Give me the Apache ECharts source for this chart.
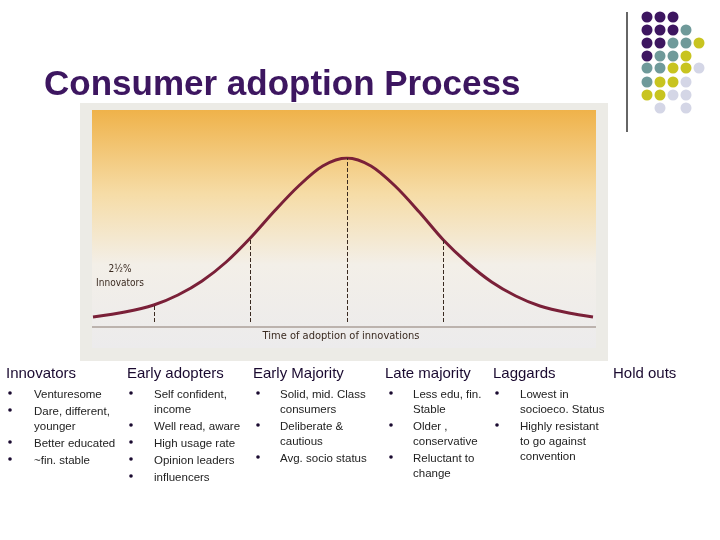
<!DOCTYPE html>
<html><head><meta charset="utf-8">
<script src="https://cdn.jsdelivr.net/npm/echarts@6/dist/echarts.min.js"></script>
<style>html,body{margin:0;padding:0;background:#fff}#c{width:720px;height:540px}</style>
</head><body><div id="c"></div>
<script>
// bell curve (x in std deviations, y = height above baseline)
const curveX = [-2.63, -2.3, -2, -1.75, -1.5, -1.25, -1, -0.75, -0.5, -0.25, 0, 0.25, 0.5, 0.75, 1, 1.25, 1.5, 1.75, 2, 2.3, 2.55];
const curveY = [5, 10, 17, 27, 41, 60, 84, 111, 136, 156, 164, 156, 136, 110, 82, 59, 40, 26, 16, 9, 5];
const dividers = [[-2, 17], [-1, 84], [0, 164], [1, 82]];
const segmentLabels = [
  {x: -1.45, pct: '13½%', name: 'Early adopters'},
  {x: -0.5, pct: '34%', name: 'Early majority'},
  {x: 0.55, pct: '34%', name: 'Late majority'},
  {x: 1.5, pct: '16%', name: 'Laggards'}
];
const headers = ['Innovators', 'Early adopters', 'Early Majority', 'Late majority', 'Laggards', 'Hold outs'];
const col1 = ['Venturesome', 'Dare, different,\nyounger', 'Better educated', '~fin. stable'];
const col2 = ['Self confident,\nincome', 'Well read, aware', 'High usage rate', 'Opinion leaders', 'influencers'];
const col3 = ['Solid, mid. Class\nconsumers', 'Deliberate &\ncautious', 'Avg. socio status'];
const col4 = ['Less edu, fin.\nStable', 'Older ,\nconservative', 'Reluctant to\nchange'];
const col5 = ['Lowest in\nsocioeco. Status', 'Highly resistant\nto go against\nconvention'];
const dotRows = ['PPP', 'PPPT', 'PPTTY', 'PTTY', 'TTYYG', 'TYYG', 'YYGG', ' G G'];

const chart = echarts.init(document.getElementById('c'));
const dotColors = {P: '#3d1660', T: '#6f9a9a', Y: '#c8c420', G: '#d4d6e6'};
const textFont = 'Liberation Sans, Arial, sans-serif';
const graphic = [];

// photo frame + gradient
graphic.push({type: 'rect', z: -10, shape: {x: 80, y: 103, width: 528, height: 258},
  style: {fill: '#ecebe6'}});
graphic.push({type: 'rect', z: -9, shape: {x: 92, y: 110, width: 504, height: 238},
  style: {fill: new echarts.graphic.LinearGradient(0, 0, 0, 1, [
    {offset: 0, color: '#efb24a'}, {offset: 0.35, color: '#f6dca6'},
    {offset: 0.65, color: '#f3efe8'}, {offset: 1, color: '#ecebec'}])}});
graphic.push({type: 'line', z: -8, shape: {x1: 92, y1: 327, x2: 596, y2: 327},
  style: {stroke: '#8a7a70', lineWidth: 1}});
graphic.push({type: 'text', x: 341, y: 331, style: {text: 'Time of adoption of innovations',
  font: '11px "DejaVu Sans Condensed", sans-serif', fill: '#3a2a20', align: 'center'}});
graphic.push({type: 'text', x: 120, y: 262, style: {text: '2½%\nInnovators',
  font: '10px "DejaVu Sans Condensed", sans-serif', fill: '#3a2a20', align: 'center', lineHeight: 14}});

// title
graphic.push({type: 'text', x: 44, y: 68, style: {text: 'Consumer adoption Process',
  font: 'bold 35px ' + textFont, fill: '#3d1660'}});
graphic.push({type: 'line', shape: {x1: 627, y1: 12, x2: 627, y2: 132}, style: {stroke: '#333', lineWidth: 1.5}});

// decorative dots
const dotX = [647, 660, 673, 686, 699];
const dotY = [17, 30, 43, 56, 68, 82, 95, 108];
dotRows.forEach((row, r) => {
  row.split('').forEach((ch, c) => {
    if (dotColors[ch]) {
      graphic.push({type: 'circle', shape: {cx: dotX[c], cy: dotY[r], r: 5.5}, style: {fill: dotColors[ch]}});
    }
  });
});

// columns
const headerX = [6, 127, 253, 385, 493, 613];
headers.forEach((h, i) => {
  graphic.push({type: 'text', x: headerX[i], y: 366, style: {text: h, font: '15px ' + textFont, fill: '#1a0a30'}});
});
[[col1, 10, 34], [col2, 131, 154], [col3, 258, 280], [col4, 391, 413], [col5, 497, 520]].forEach(([items, bx, tx]) => {
  let y = 387;
  items.forEach(item => {
    const lines = item.split('\n').length;
    graphic.push({type: 'circle', shape: {cx: bx, cy: y + 6, r: 1.8}, style: {fill: '#1a0a30'}});
    graphic.push({type: 'text', x: tx, y: y, style: {text: item, font: '11.5px ' + textFont,
      fill: '#222', lineHeight: 15}});
    y += lines * 15 + 2;
  });
});

chart.setOption({
  animation: false,
  grid: {left: 93, right: 127, top: 158, bottom: 218},
  xAxis: {type: 'value', min: -2.63, max: 2.55, show: false},
  yAxis: {type: 'value', min: 0, max: 164, show: false},
  graphic: graphic,
  series: [{
    type: 'line',
    smooth: 0.3,
    symbol: 'none',
    data: curveX.map((x, i) => [x, curveY[i]]),
    lineStyle: {color: '#7a2038', width: 3},
    markLine: {
      silent: true, symbol: 'none',
      lineStyle: {color: '#3a2a20', type: 'dashed', width: 1, opacity: 1},
      label: {show: false},
      data: dividers.map(d => [{coord: [d[0], 0]}, {coord: [d[0], d[1]]}])
    }
  }, {
    type: 'scatter',
    symbolSize: 1,
    itemStyle: {opacity: 0},
    data: segmentLabels.map(s => [s.x, 0, s.pct, s.name]),
    label: {show: true, position: 'top', distance: 4,
      formatter: p => p.data[2] + '\n' + p.data[3],
      fontFamily: 'DejaVu Sans Condensed', fontSize: 10.5, lineHeight: 16, color: '#3a2a20'},
    emphasis: {disabled: true}
  }]
});
</script></body></html>
